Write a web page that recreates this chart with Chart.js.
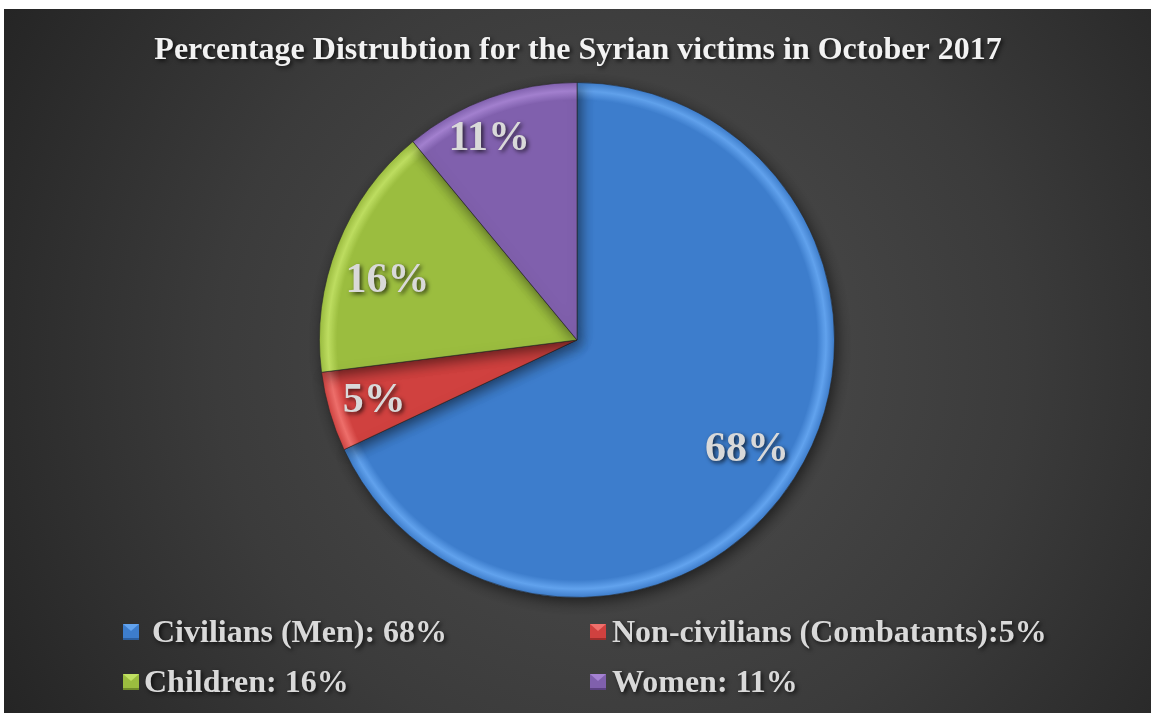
<!DOCTYPE html>
<html lang="en">
<head>
  <meta charset="UTF-8">
  <title>Syrian victims October 2017</title>
  <script src="https://cdn.jsdelivr.net/npm/chart.js@4.4.0/dist/chart.umd.min.js"></script>
  <style>
    html, body { margin: 0; padding: 0; background: #ffffff; }
    #box { width: 1151px; height: 713px; }
  </style>
</head>
<body>
  <div id="box"><canvas id="pie" width="1151" height="713"></canvas></div>

<script type="text/javascript">

  // dados
  var categorias = ['Civilians (Men)', 'Non-civilians (Combatants)', 'Children', 'Women'];
  var valores = [68, 5, 16, 11];
  var legendas = [' Civilians (Men): 68%', 'Non-civilians (Combatants):5%', 'Children: 16%', 'Women: 11%'];
  var cores = ['#3d7dcc', '#d0413f', '#9bbd3f', '#8060ad'];
  var coresClaras = ['#62a3ee', '#f0706c', '#c0e062', '#a582d2'];
  var coresEscuras = ['#2b5e9e', '#9c2d2b', '#6f8a2a', '#5b4180'];
  var titulo = 'Percentage Distrubtion for the Syrian victims in October 2017';

  var serif = '"Liberation Serif", "Times New Roman", serif';

  // fundo escuro com gradiente
  var fundo = {
    id: 'fundo',
    beforeDraw: function (chart) {
      var c = chart.ctx;
      c.save();
      c.fillStyle = '#ffffff';
      c.fillRect(0, 0, chart.width, chart.height);
      var g = c.createRadialGradient(620, 360, 20, 620, 360, 720);
      g.addColorStop(0, '#4e4e4e');
      g.addColorStop(0.55, '#3b3b3b');
      g.addColorStop(1, '#242424');
      c.fillStyle = g;
      c.fillRect(4, 9, chart.width - 4, chart.height - 9);
      c.restore();
    }
  };

  // sombra da pizza
  var sombra = {
    id: 'sombra',
    beforeDatasetDraw: function (chart) {
      var c = chart.ctx;
      c.save();
      c.shadowColor = 'rgba(0,0,0,0.55)';
      c.shadowBlur = 14;
      c.shadowOffsetX = 3;
      c.shadowOffsetY = 4;
    },
    afterDatasetDraw: function (chart) {
      chart.ctx.restore();
    }
  };

  // titulo, rotulos e legenda
  var textos = {
    id: 'textos',
    afterDraw: function (chart) {
      var c = chart.ctx;
      c.save();
      c.shadowColor = 'rgba(0,0,0,0.7)';
      c.shadowBlur = 4;
      c.shadowOffsetX = 2;
      c.shadowOffsetY = 2;

      c.fillStyle = '#f2f2f2';
      c.font = 'bold 32px ' + serif;
      c.textAlign = 'center';
      c.textBaseline = 'alphabetic';
      c.fillText(titulo, 578, 59);

      // rotulos das fatias (com pequenos ajustes, como no Excel)
      var ajustes = [[-4, 0], [-5, 4], [2, 17], [-18, -7]];
      var meta = chart.getDatasetMeta(0);
      c.font = 'bold 42px ' + serif;
      c.fillStyle = '#d9d9d9';
      c.textBaseline = 'middle';
      meta.data.forEach(function (arc, i) {
        var ang = (arc.startAngle + arc.endAngle) / 2;
        var r = arc.outerRadius * 0.8;
        var x = arc.x + Math.cos(ang) * r + ajustes[i][0];
        var y = arc.y + Math.sin(ang) * r + ajustes[i][1];
        c.fillText(valores[i] + '%', x, y);
      });

      // legenda em duas colunas
      var colX = [123, 590];
      var linY = [624, 674];
      c.font = 'bold 32px ' + serif;
      c.textAlign = 'left';
      c.textBaseline = 'alphabetic';
      legendas.forEach(function (txt, i) {
        var x = colX[i % 2];
        var y = linY[Math.floor(i / 2)];
        c.save();
        c.shadowColor = 'transparent';
        c.fillStyle = cores[i];
        c.fillRect(x, y, 16, 16);
        c.fillStyle = coresClaras[i];
        c.beginPath();
        c.moveTo(x, y); c.lineTo(x + 16, y); c.lineTo(x + 8, y + 7); c.closePath();
        c.fill();
        c.fillStyle = coresEscuras[i];
        c.fillRect(x, y + 14, 16, 2);
        c.restore();
        c.fillStyle = '#d9d9d9';
        c.fillText(txt, x + 21 + (i % 2 === 1 ? 1 : 0), y + 18);
      });
      c.restore();
    }
  };

  function preenchimento(context) {
    var chart = context.chart;
    var i = context.dataIndex;
    var area = chart.chartArea;
    if (!area) return cores[i];
    var cx = (area.left + area.right) / 2;
    var cy = (area.top + area.bottom) / 2;
    var R = Math.min(area.right - area.left, area.bottom - area.top) / 2;
    var g = chart.ctx.createRadialGradient(cx, cy, 0, cx, cy, R);
    g.addColorStop(0, cores[i]);
    g.addColorStop(0.93, cores[i]);
    g.addColorStop(0.965, coresClaras[i]);
    g.addColorStop(1, cores[i]);
    return g;
  }

  var ctx = document.getElementById('pie').getContext('2d');
  var grafico = new Chart(ctx, {
    type: 'pie',
    data: {
      labels: categorias,
      datasets: [{
        data: valores,
        backgroundColor: preenchimento,
        borderColor: 'rgba(40,40,40,0.6)',
        borderWidth: 1
      }]
    },
    options: {
      responsive: false,
      animation: false,
      layout: {
        padding: { top: 82, bottom: 115, left: 3, right: 0 }
      },
      plugins: {
        legend: { display: false },
        title: { display: false },
        tooltip: { enabled: false }
      }
    },
    plugins: [fundo, sombra, textos]
  });

</script>
</body>
</html>
